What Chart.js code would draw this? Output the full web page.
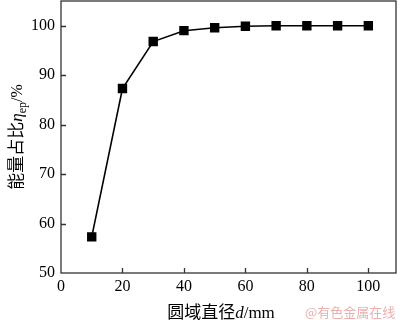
<!DOCTYPE html>
<html><head><meta charset="utf-8">
<script src="https://cdn.jsdelivr.net/npm/chart.js@4.4.0/dist/chart.umd.min.js"></script>
<style>html,body{margin:0;padding:0;background:#fff}#wrap{width:400px;height:320px}</style>
</head><body><div id="wrap"><canvas id="c" width="400" height="320"></canvas></div>
<script>
const diameters = [10, 20, 30, 40, 50, 60, 70, 80, 90, 100];
const energyRatio = [57.3, 87.3, 96.8, 99.0, 99.6, 99.9, 100.0, 100.0, 100.0, 100.0];
const xTicks = [0, 20, 40, 60, 80, 100];
const yTicks = [50, 60, 70, 80, 90, 100];
const xTitle = ['圆域直径', 'd', '/mm'];
const yTitle = ['能量占比', 'η', 'ep', '/%'];
const watermark = '@有色金属在线';

const SERIF = '"Liberation Serif", "Times New Roman", serif';
const CJK = '"Noto Sans CJK SC", sans-serif';

const frame = {
  id: 'frame',
  afterDraw(chart) {
    const {ctx, chartArea: a, scales: {x, y}} = chart;
    ctx.save();
    ctx.strokeStyle = '#333';
    ctx.lineWidth = 1.3;
    ctx.strokeRect(a.left, a.top, a.right - a.left, a.bottom - a.top);
    ctx.beginPath();
    xTicks.forEach(v => { const px = Math.round(x.getPixelForValue(v)) + 0.5; if (v > 0) { ctx.moveTo(px, a.bottom); ctx.lineTo(px, a.bottom - 5); } });
    yTicks.forEach(v => { const py = Math.round(y.getPixelForValue(v)) + 0.5; if (v > 50) { ctx.moveTo(a.left, py); ctx.lineTo(a.left + 5, py); } });
    ctx.stroke();
    // x title
    ctx.fillStyle = '#000';
    ctx.textBaseline = 'alphabetic';
    const parts = [
      {t: xTitle[0], f: '17px ' + CJK},
      {t: xTitle[1], f: 'italic 17px ' + SERIF},
      {t: xTitle[2], f: '17px ' + SERIF}
    ];
    let w = 0; parts.forEach(p => { ctx.font = p.f; p.w = ctx.measureText(p.t).width; w += p.w; });
    let cx = 221 - w / 2;
    parts.forEach(p => { ctx.font = p.f; ctx.fillText(p.t, cx, 318); cx += p.w; });
    // y title rotated
    ctx.translate(22, 137);
    ctx.rotate(-Math.PI / 2);
    const yp = [
      {t: yTitle[0], f: '17px ' + CJK, dy: 0},
      {t: yTitle[1], f: 'italic 17px ' + SERIF, dy: 0},
      {t: yTitle[2], f: '12px ' + SERIF, dy: 4},
      {t: yTitle[3], f: '16px ' + SERIF, dy: 0}
    ];
    w = 0; yp.forEach(p => { ctx.font = p.f; p.w = ctx.measureText(p.t).width; w += p.w; });
    cx = -w / 2;
    yp.forEach(p => { ctx.font = p.f; ctx.fillText(p.t, cx, p.dy); cx += p.w; });
    ctx.restore();
    // watermark
    ctx.save();
    ctx.font = '13px ' + CJK;
    ctx.fillStyle = '#eab0b0';
    ctx.textAlign = 'left';
    ctx.fillText(watermark, 305, 317);
    ctx.restore();
  }
};

new Chart(document.getElementById('c'), {
  type: 'line',
  data: {
    datasets: [{
      data: diameters.map((d, i) => ({x: d, y: energyRatio[i]})),
      borderColor: '#000',
      borderWidth: 1.6,
      backgroundColor: '#000',
      pointStyle: 'rect',
      pointRadius: 5.5,
      pointHoverRadius: 5.5,
      tension: 0,
      fill: false
    }]
  },
  options: {
    responsive: false,
    animation: false,
    events: [],
    layout: {autoPadding: false, padding: {top: 1, right: 4, left: 0, bottom: 0}},
    plugins: {legend: {display: false}, tooltip: {enabled: false}},
    scales: {
      x: {
        type: 'linear', min: 0, max: 109,
        afterBuildTicks: s => { s.ticks = xTicks.map(v => ({value: v})); },
        afterFit: s => { s.height = 47; s.paddingLeft = 0; s.paddingRight = 0; },
        grid: {display: false, drawTicks: false},
        border: {display: false},
        ticks: {color: '#000', font: {family: SERIF, size: 16}, padding: 4, maxRotation: 0}
      },
      y: {
        type: 'linear', min: 50, max: 105,
        afterBuildTicks: s => { s.ticks = yTicks.map(v => ({value: v})); },
        afterFit: s => { s.width = 61; s.paddingTop = 0; s.paddingBottom = 0; },
        grid: {display: false, drawTicks: false},
        border: {display: false},
        ticks: {color: '#000', font: {family: SERIF, size: 16}, padding: 6}
      }
    }
  },
  plugins: [frame]
});
</script>
</body></html>
